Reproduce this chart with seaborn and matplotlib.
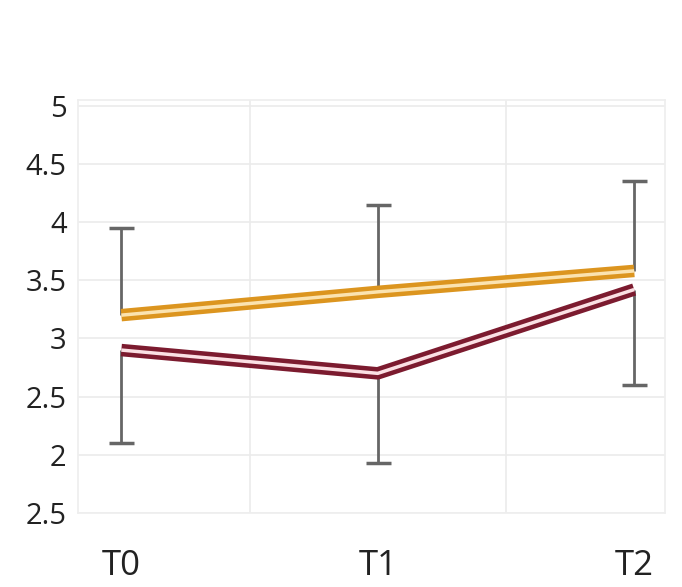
import matplotlib
matplotlib.use("Agg")
import matplotlib.pyplot as plt
import matplotlib.patheffects as pe
import seaborn as sns
import pandas as pd
import numpy as np

times = ["T0", "T1", "T2"]
orange_vals = [3.20, 3.40, 3.58]
orange_upper = [3.95, 4.15, 4.35]
red_vals = [2.90, 2.70, 3.42]
red_lower = [2.10, 1.93, 2.60]
ytick_values = [1.5, 2, 2.5, 3, 3.5, 4, 4.5, 5]
ytick_labels = ["2.5", "2", "2.5", "3", "3.5", "4", "4.5", "5"]

sns.set_theme(style="whitegrid")
plt.rcParams['font.family'] = ['Open Sans', 'DejaVu Sans']

df = pd.DataFrame({
    "time": times * 2,
    "value": orange_vals + red_vals,
    "group": ["A"] * 3 + ["B"] * 3,
})

fig = plt.figure(figsize=(6.82, 5.87), dpi=100)
ax = fig.add_axes([0.114, 0.126, 0.861, 0.704])

x = np.arange(len(times))
o_vals = np.array(orange_vals)
o_up = np.array(orange_upper)
r_vals = np.array(red_vals)
r_low = np.array(red_lower)
# one-sided error bars: orange upward, red downward
ax.errorbar(x, o_up, yerr=[o_up - o_vals, np.zeros(3)],
            fmt="none", ecolor="#666666", elinewidth=2, capsize=0, zorder=2)
ax.errorbar(x, r_low, yerr=[np.zeros(3), r_vals - r_low],
            fmt="none", ecolor="#666666", elinewidth=2, capsize=0, zorder=2)
# caps at the far ends only
ax.plot(x, orange_upper, linestyle="none", marker="_", markersize=18,
        markeredgewidth=2.5, color="#666666", zorder=2)
ax.plot(x, red_lower, linestyle="none", marker="_", markersize=18,
        markeredgewidth=2.5, color="#666666", zorder=2)

palette = {"A": "#dc951f", "B": "#7c1b2f"}
sns.lineplot(data=df, x="time", y="value", hue="group", palette=palette,
             linewidth=9, legend=False, ax=ax, sort=False)
centers = {"A": "#fbe3b0", "B": "#fbe0e4"}
for line, g in zip(ax.lines[-2:], ["A", "B"]):
    line.set_zorder(3)
    line.set_solid_capstyle("butt")
    line.set_path_effects([pe.Normal(),
                           pe.Stroke(linewidth=2.5, foreground=centers[g])])

ax.set_xlim(-0.17, 2.12)
ax.set_ylim(1.5, 5.05)
ax.set_yticks(ytick_values)
ax.set_yticklabels(ytick_labels, fontsize=21, color="#222222")
ax.set_xticks([0.5, 1.5], minor=False)
ax.set_xticklabels([])
ax.set_xticks(x, minor=True)
ax.set_xticklabels(times, minor=True, fontsize=25, color="#222222")
ax.tick_params(axis="x", which="minor", pad=26, length=0)
ax.tick_params(axis="x", which="major", length=0)
ax.tick_params(axis="y", pad=8, length=0)
ax.grid(True, which="major", color="#ebebeb", linewidth=1.2)
ax.set_xlabel("")
ax.set_ylabel("")
for s in ax.spines.values():
    s.set_color("#eeeeee")
    s.set_linewidth(1.2)

fig.savefig("out.png", dpi=100)
